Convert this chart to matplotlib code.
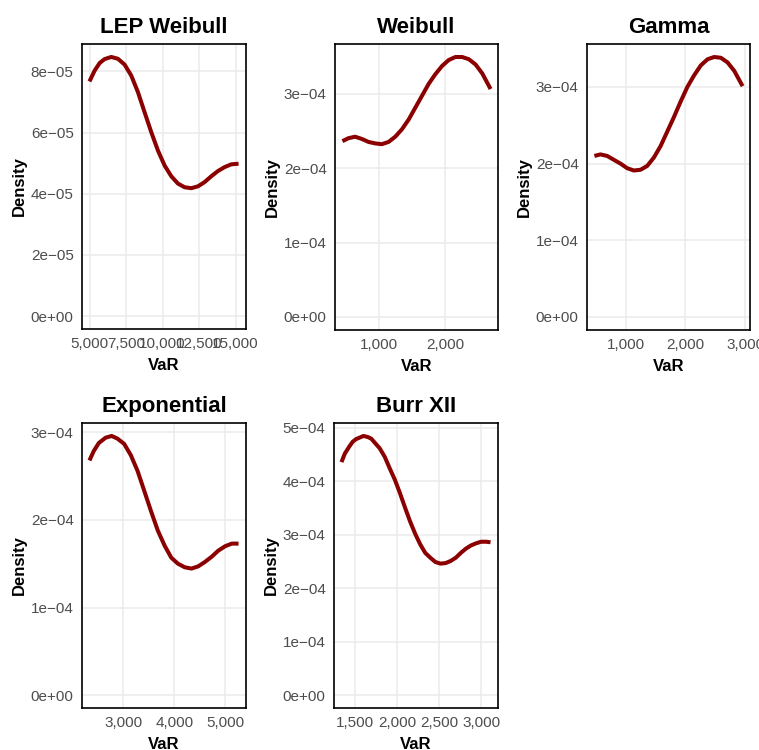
import matplotlib
import numpy as np

matplotlib.use("Agg")
from matplotlib import pyplot as plt  # noqa: E402

plt.rcParams["font.family"] = ["Liberation Sans", "DejaVu Sans"]

# curve values (VaR, density)
lep_x = [4990, 5342, 5685, 6027, 6484, 6941, 7397, 7854, 8310, 8767, 9224, 9680, 10137, 10594,
         11050, 11507, 11963, 12420, 12877, 13333, 13790, 14247, 14703, 15200]
lep_y = [7.67e-5, 8.02e-5, 8.27e-5, 8.40e-5, 8.47e-5, 8.41e-5, 8.22e-5, 7.86e-5, 7.32e-5, 6.66e-5,
         6.01e-5, 5.41e-5, 4.92e-5, 4.57e-5, 4.33e-5, 4.21e-5, 4.18e-5, 4.24e-5, 4.38e-5, 4.57e-5,
         4.74e-5, 4.87e-5, 4.96e-5, 4.98e-5]

wei_x = [460, 550, 650, 750, 850, 950, 1050, 1150, 1250, 1350, 1450, 1550, 1650, 1750, 1850,
         1950, 2050, 2150, 2250, 2350, 2450, 2550, 2675]
wei_y = [2.36e-4, 2.40e-4, 2.42e-4, 2.39e-4, 2.35e-4, 2.33e-4, 2.32e-4, 2.35e-4, 2.42e-4, 2.52e-4,
         2.65e-4, 2.81e-4, 2.97e-4, 3.13e-4, 3.26e-4, 3.37e-4, 3.45e-4, 3.49e-4, 3.49e-4, 3.46e-4,
         3.39e-4, 3.27e-4, 3.06e-4]

gam_x = [480, 581, 693, 804, 916, 1028, 1140, 1252, 1363, 1475, 1587, 1699, 1811, 1922, 2034,
         2146, 2258, 2370, 2481, 2593, 2705, 2817, 2957]
gam_y = [2.10e-4, 2.12e-4, 2.10e-4, 2.05e-4, 2.00e-4, 1.94e-4, 1.91e-4, 1.92e-4, 1.97e-4, 2.08e-4,
         2.23e-4, 2.42e-4, 2.61e-4, 2.81e-4, 3.00e-4, 3.15e-4, 3.28e-4, 3.36e-4, 3.39e-4, 3.38e-4,
         3.32e-4, 3.21e-4, 3.01e-4]

exp_x = [2342, 2428, 2526, 2658, 2776, 2888, 3020, 3151, 3283, 3415, 3546, 3678, 3809, 3941,
         4073, 4204, 4336, 4467, 4599, 4731, 4862, 4994, 5125, 5257]
exp_y = [2.68e-4, 2.79e-4, 2.88e-4, 2.94e-4, 2.96e-4, 2.93e-4, 2.87e-4, 2.74e-4, 2.56e-4, 2.33e-4,
         2.10e-4, 1.88e-4, 1.71e-4, 1.57e-4, 1.50e-4, 1.46e-4, 1.445e-4, 1.47e-4, 1.52e-4, 1.58e-4,
         1.65e-4, 1.70e-4, 1.73e-4, 1.73e-4]

burr_x = [1344, 1384, 1436, 1476, 1516, 1604, 1656, 1696, 1796, 1856, 1916, 1976, 2036, 2096,
          2156, 2216, 2276, 2336, 2396, 2456, 2516, 2576, 2636, 2696, 2756, 2816, 2876, 2936,
          2996, 3056, 3108]
burr_y = [4.36e-4, 4.52e-4, 4.65e-4, 4.74e-4, 4.79e-4, 4.85e-4, 4.83e-4, 4.80e-4, 4.62e-4, 4.46e-4,
          4.24e-4, 4.03e-4, 3.78e-4, 3.51e-4, 3.25e-4, 3.02e-4, 2.82e-4, 2.66e-4, 2.57e-4, 2.49e-4,
          2.46e-4, 2.47e-4, 2.51e-4, 2.57e-4, 2.66e-4, 2.74e-4, 2.80e-4, 2.84e-4, 2.87e-4, 2.87e-4,
          2.86e-4]

titles = ["LEP Weibull", "Weibull", "Gamma", "Exponential", "Burr XII"]

lep_xticks = [5000, 7500, 10000, 12500, 15000]
lep_xlabels = ["5,000", "7,500", "10,000", "12,500", "15,000"]
lep_yticks = [0, 2e-5, 4e-5, 6e-5, 8e-5]
lep_ylabels = ["0e+00", "2e\u221205", "4e\u221205", "6e\u221205", "8e\u221205"]

wei_xticks = [1000, 2000]
wei_xlabels = ["1,000", "2,000"]
gam_xticks = [1000, 2000, 3000]
gam_xlabels = ["1,000", "2,000", "3,000"]
exp_xticks = [3000, 4000, 5000]
exp_xlabels = ["3,000", "4,000", "5,000"]
burr_xticks = [1500, 2000, 2500, 3000]
burr_xlabels = ["1,500", "2,000", "2,500", "3,000"]

e4_yticks = [0, 1e-4, 2e-4, 3e-4]
e4_ylabels = ["0e+00", "1e\u221204", "2e\u221204", "3e\u221204"]
burr_yticks = [0, 1e-4, 2e-4, 3e-4, 4e-4, 5e-4]
burr_ylabels = ["0e+00", "1e\u221204", "2e\u221204", "3e\u221204", "4e\u221204", "5e\u221204"]

W, H = 759, 750
# panel boxes in pixels: left, top, right, bottom
boxes = [
    (82, 44, 246, 329),
    (335, 44, 498, 330),
    (587, 44, 750, 330),
    (82, 423, 246, 708),
    (334, 423, 498, 708),
]

panels = [
    (lep_x, lep_y, lep_xticks, lep_xlabels, lep_yticks, lep_ylabels),
    (wei_x, wei_y, wei_xticks, wei_xlabels, e4_yticks, e4_ylabels),
    (gam_x, gam_y, gam_xticks, gam_xlabels, e4_yticks, e4_ylabels),
    (exp_x, exp_y, exp_xticks, exp_xlabels, e4_yticks, e4_ylabels),
    (burr_x, burr_y, burr_xticks, burr_xlabels, burr_yticks, burr_ylabels),
]

fig = plt.figure(figsize=(W / 100, H / 100), dpi=100)
for title, box, (xs, ys, xt, xl, yt, yl) in zip(titles, boxes, panels):
    l, t, r, b = box
    ax = fig.add_axes([l / W, 1 - b / H, (r - l) / W, (b - t) / H])
    ax.plot(xs, ys, color="#8B0000", linewidth=2.9, solid_capstyle="butt",
            solid_joinstyle="round", zorder=3)
    xs_arr = np.asarray(xs)
    span = xs_arr.max() - xs_arr.min()
    ax.set_xlim(xs_arr.min() - 0.05 * span, xs_arr.max() + 0.05 * span)
    ymax = max(ys)
    ax.set_ylim(-0.05 * ymax, 1.05 * ymax)
    ax.set_xticks(xt)
    ax.set_xticklabels(xl)
    ax.set_yticks(yt)
    ax.set_yticklabels(yl)
    ax.grid(True, color="#EBEBEB", linewidth=1.1)
    ax.set_axisbelow(True)
    ax.tick_params(length=0, labelsize=11, labelcolor="#4D4D4D", pad=6)
    for spine in ax.spines.values():
        spine.set_color("black")
        spine.set_linewidth(1.2)
    ax.set_title(title, fontsize=16, fontweight="bold", pad=8)
    ax.set_xlabel("VaR", fontsize=12, fontweight="bold", labelpad=5)
    ax.set_ylabel("Density", fontsize=12, fontweight="bold", labelpad=3)

fig.savefig("out.png", dpi=100)
